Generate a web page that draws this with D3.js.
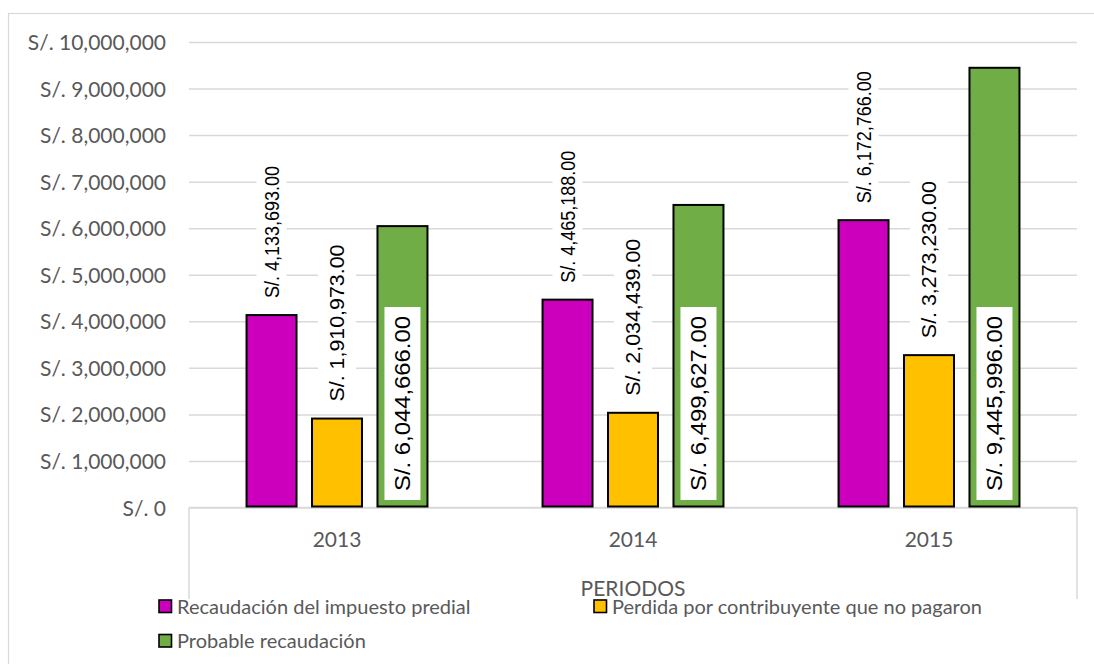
<!DOCTYPE html>
<html>
<head>
<meta charset="utf-8">
<script src="https://cdn.jsdelivr.net/npm/d3@7"></script>
<style>
  html, body { margin: 0; padding: 0; background: #fff; }
  svg { display: block; }
</style>
</head>
<body>
<svg id="chart" width="1094" height="664"></svg>
<script>
const categories = ["2013", "2014", "2015"];
const seriesNames = ["Recaudación del impuesto predial", "Perdida por contribuyente que no pagaron", "Probable recaudación"];
const recaudacion = [4133693, 4465188, 6172766];
const perdida = [1910973, 2034439, 3273230];
const probable = [6044666, 6499627, 9445996];
const yTickValues = [0, 1000000, 2000000, 3000000, 4000000, 5000000, 6000000, 7000000, 8000000, 9000000, 10000000];
const seriesColors = ["#CC00BC", "#FFC000", "#70AD47"];
const xTitle = "PERIODOS";

const series = [recaudacion, perdida, probable];
const svg = d3.select("#chart");
const gray = "#595959";
const gridColor = "#D9D9D9";
const axisFont = "Lato, 'Open Sans', sans-serif";
const labelFont = "'Liberation Sans', Arial, sans-serif";

// outer chart border
svg.append("rect").attr("x", 8.5).attr("y", 13.5).attr("width", 1200).attr("height", 800)
  .attr("fill", "none").attr("stroke", gridColor).attr("stroke-width", 1.2);

const plotLeft = 189, plotRight = 1077, plotTop = 42, plotBottom = 507.5;

const y = d3.scaleLinear().domain([0, 10000000]).range([plotBottom, plotTop]);
const x0 = d3.scaleBand().domain(categories).range([plotLeft, plotRight])
  .paddingInner(0.382).paddingOuter(0.191);
const x1 = d3.scaleBand().domain(d3.range(series.length)).range([0, x0.bandwidth()])
  .paddingInner(0.206).paddingOuter(0);

// gridlines + tick labels
const yAxis = d3.axisLeft(y).tickValues(yTickValues)
  .tickSize(-(plotRight - plotLeft))
  .tickFormat(d => "S/. " + d3.format(",")(d))
  .tickPadding(23);
const gy = svg.append("g").attr("transform", `translate(${plotLeft},0)`).call(yAxis);
gy.select(".domain").remove();
gy.selectAll(".tick line").attr("stroke", gridColor).attr("stroke-width", 1.5);
gy.selectAll(".tick text").attr("fill", gray).attr("font-family", axisFont)
  .attr("font-size", 21).attr("dy", "0.36em");

// category axis box
const axisG = svg.append("g");
axisG.append("line").attr("x1", plotLeft).attr("x2", plotRight).attr("y1", plotBottom).attr("y2", plotBottom)
  .attr("stroke", gridColor).attr("stroke-width", 1.5);
axisG.append("line").attr("x1", plotLeft).attr("x2", plotLeft).attr("y1", plotBottom).attr("y2", 599)
  .attr("stroke", gridColor).attr("stroke-width", 1.5);
axisG.append("line").attr("x1", plotRight).attr("x2", plotRight).attr("y1", plotBottom).attr("y2", 599)
  .attr("stroke", gridColor).attr("stroke-width", 1.5);

axisG.selectAll("text.cat").data(categories).enter().append("text")
  .attr("class", "cat")
  .attr("x", d => x0(d) + x0.bandwidth() / 2)
  .attr("y", 546.5)
  .attr("text-anchor", "middle")
  .attr("fill", gray).attr("font-family", axisFont).attr("font-size", 21)
  .text(d => d);

// bars
const groups = svg.append("g").selectAll("g").data(categories).enter().append("g")
  .attr("transform", d => `translate(${x0(d)},0)`);

groups.selectAll("rect").data((d, i) => series.map((s, k) => ({ k, v: s[i] }))).enter().append("rect")
  .attr("x", d => x1(d.k) + 1)
  .attr("width", x1.bandwidth() - 2)
  .attr("y", d => y(d.v))
  .attr("height", d => y(0) - y(d.v) - 1)
  .attr("fill", d => seriesColors[d.k])
  .attr("stroke", "#000").attr("stroke-width", 2);

const fmt = v => "S/. " + d3.format(",.2f")(v);

// outside-end labels for first two series
const labelSpecs = [
  { k: 0, len: 132, box: 30, size: 20 },
  { k: 1, len: 157, box: 38, size: 20 }
];
labelSpecs.forEach(spec => {
  categories.forEach((c, i) => {
    const v = series[spec.k][i];
    const cx = x0(c) + x1(spec.k) + x1.bandwidth() / 2;
    const yStart = y(v) - 17;
    svg.append("rect")
      .attr("x", cx - spec.box / 2).attr("width", spec.box)
      .attr("y", yStart - spec.len - 4).attr("height", spec.len + 8)
      .attr("fill", "#fff");
    svg.append("text")
      .attr("transform", `translate(${cx + 7},${yStart}) rotate(-90)`)
      .attr("font-family", labelFont).attr("font-size", spec.size)
      .attr("fill", "#000")
      .attr("textLength", spec.len).attr("lengthAdjust", "spacingAndGlyphs")
      .text(fmt(v));
  });
});

// inside-base labels for third series
categories.forEach((c, i) => {
  const v = series[2][i];
  const cx = x0(c) + x1(2) + x1.bandwidth() / 2;
  const boxBottom = plotBottom - 7.5;
  svg.append("rect")
    .attr("x", cx - 18).attr("width", 36)
    .attr("y", boxBottom - 193).attr("height", 193)
    .attr("fill", "#fff");
  svg.append("text")
    .attr("transform", `translate(${cx + 8},${boxBottom - 9}) rotate(-90)`)
    .attr("font-family", labelFont).attr("font-size", 22.5)
    .attr("fill", "#000")
    .attr("textLength", 175).attr("lengthAdjust", "spacingAndGlyphs")
    .text(fmt(v));
});

// axis title
svg.append("text").attr("x", 633).attr("y", 596)
  .attr("text-anchor", "middle").attr("fill", gray)
  .attr("font-family", axisFont).attr("font-size", 21)
  .text(xTitle);

// legend
const legendItems = [
  { k: 0, x: 159, y: 600 },
  { k: 1, x: 594, y: 600 },
  { k: 2, x: 159, y: 634.5 }
];
const lg = svg.append("g");
legendItems.forEach(it => {
  lg.append("rect").attr("x", it.x).attr("y", it.y).attr("width", 12.5).attr("height", 12.5)
    .attr("fill", seriesColors[it.k]).attr("stroke", "#000").attr("stroke-width", 1.6);
  lg.append("text").attr("x", it.x + 18).attr("y", it.y + 13.5)
    .attr("fill", gray).attr("font-family", axisFont).attr("font-size", 20)
    .text(seriesNames[it.k]);
});
</script>
</body>
</html>
